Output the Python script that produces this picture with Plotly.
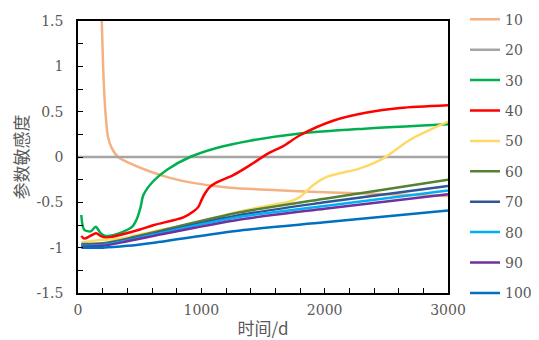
import plotly.graph_objects as go

# ---- data ----
names = ["10", "20", "30", "40", "50", "60", "70", "80", "90", "100"]
colors = ["#F4B183", "#A5A5A5", "#00B050", "#FF0000", "#FFD966",
          "#548235", "#2F5597", "#00B0F0", "#7030A0", "#0070C0"]

x10 = [185, 195, 205, 215, 228, 243, 273, 324, 422, 584, 746, 908, 1232, 1541, 2000, 2500, 3000]
y10 = [1.9, 1.4, 0.95, 0.65, 0.40, 0.22, 0.10, 0.0, -0.07, -0.16, -0.23, -0.28, -0.34, -0.36, -0.39, -0.41, -0.43]

x20 = [0, 3000]
y20 = [0.0, 0.0]

x30 = [27, 49, 103, 143, 184, 224, 292, 373, 438, 478, 508, 530, 608, 722, 908, 1124, 1395, 1800, 2300, 3000]
y30 = [-0.64, -0.80, -0.82, -0.77, -0.84, -0.87, -0.86, -0.82, -0.77, -0.68, -0.55, -0.42, -0.27, -0.14, 0.0, 0.10, 0.18, 0.26, 0.31, 0.36]

x40 = [27, 50, 100, 146, 184, 230, 340, 503, 616, 854, 935, 976, 1003, 1030, 1070, 1124, 1259, 1395, 1543, 1663, 1800, 2068, 2343, 2611, 3000]
y40 = [-0.87, -0.90, -0.87, -0.84, -0.87, -0.89, -0.86, -0.80, -0.75, -0.665, -0.60, -0.55, -0.47, -0.40, -0.33, -0.28, -0.20, -0.09, 0.04, 0.12, 0.24, 0.40, 0.49, 0.54, 0.57]

x50 = [27, 100, 150, 250, 340, 616, 1000, 1314, 1600, 1720, 1800, 1908, 2016, 2124, 2287, 2476, 2692, 3000]
y50 = [-0.945, -0.93, -0.92, -0.91, -0.90, -0.82, -0.71, -0.60, -0.52, -0.49, -0.44, -0.31, -0.22, -0.18, -0.125, -0.015, 0.19, 0.39]

xc = [27, 200, 400, 616, 1314, 2000, 3000]
y60 = [-0.96, -0.95, -0.90, -0.83, -0.61, -0.46, -0.25]
y70 = [-0.97, -0.96, -0.91, -0.845, -0.64, -0.50, -0.32]
y80 = [-0.98, -0.97, -0.92, -0.855, -0.66, -0.54, -0.37]
y90 = [-0.99, -0.98, -0.93, -0.87, -0.69, -0.57, -0.41]
y100 = [-1.0, -1.0, -0.98, -0.945, -0.81, -0.72, -0.59]

series_x = [x10, x20, x30, x40, x50, xc, xc, xc, xc, xc]
series_y = [y10, y20, y30, y40, y50, y60, y70, y80, y90, y100]

ytick_vals = [1.5, 1, 0.5, 0, -0.5, -1, -1.5]
ytick_text = ["1.5", "1", "0.5", "0", "-0.5", "-1", "-1.5"]
xtick_vals = [0, 1000, 2000, 3000]
xtick_text = ["0", "1000", "2000", "3000"]

num_font = "DejaVu Serif"
cjk_font = "Noto Sans CJK SC"
txt_color = "#595959"

fig = go.Figure()
for i, (n, c) in enumerate(zip(names, colors)):
    fig.add_trace(go.Scatter(
        x=series_x[i], y=series_y[i], name=n, mode="lines",
        line=dict(color=c, width=2.5, shape="spline", smoothing=0.8),
        legendgroup=n,
    ))

fig.update_layout(
    width=531, height=332,
    margin=dict(l=70, r=91, t=13, b=47, autoexpand=False),
    paper_bgcolor="white", plot_bgcolor="white",
    font=dict(family=num_font, size=14, color=txt_color),
    showlegend=True,
    legend=dict(x=1.046, y=1.0636, xanchor="left", yanchor="top",
                font=dict(family=num_font, size=14, color=txt_color),
                traceorder="grouped", tracegroupgap=9.2,
                itemwidth=30, maxheight=340, bgcolor="rgba(0,0,0,0)"),
    xaxis=dict(range=[0, 3000], tickvals=xtick_vals, ticktext=xtick_text,
               automargin=False, ticklabelstandoff=3,
               showgrid=False, zeroline=False, showline=True, linecolor="black",
               linewidth=1.5, mirror=True, ticks="inside", ticklen=5,
               tickcolor="black",
               minor=dict(dtick=200, tick0=0, ticks="inside", ticklen=5, tickcolor="black", showgrid=False),
               title=dict(text="时间/d", font=dict(family=cjk_font, size=17, color=txt_color), standoff=10),
               tickfont=dict(family=num_font, size=14, color=txt_color)),
    yaxis=dict(range=[-1.5, 1.5], tickvals=ytick_vals, ticktext=ytick_text,
               automargin=False, ticklabelstandoff=10,
               showgrid=False, zeroline=False, showline=True, linecolor="black",
               linewidth=1.5, mirror=True, ticks="inside", ticklen=5,
               tickcolor="black",
               minor=dict(dtick=0.25, tick0=0, ticks="inside", ticklen=5, tickcolor="black", showgrid=False),
               title=dict(text="参数敏感度", font=dict(family=cjk_font, size=17, color=txt_color), standoff=7),
               tickfont=dict(family=num_font, size=14, color=txt_color)),
)

fig.write_html("out.html")
